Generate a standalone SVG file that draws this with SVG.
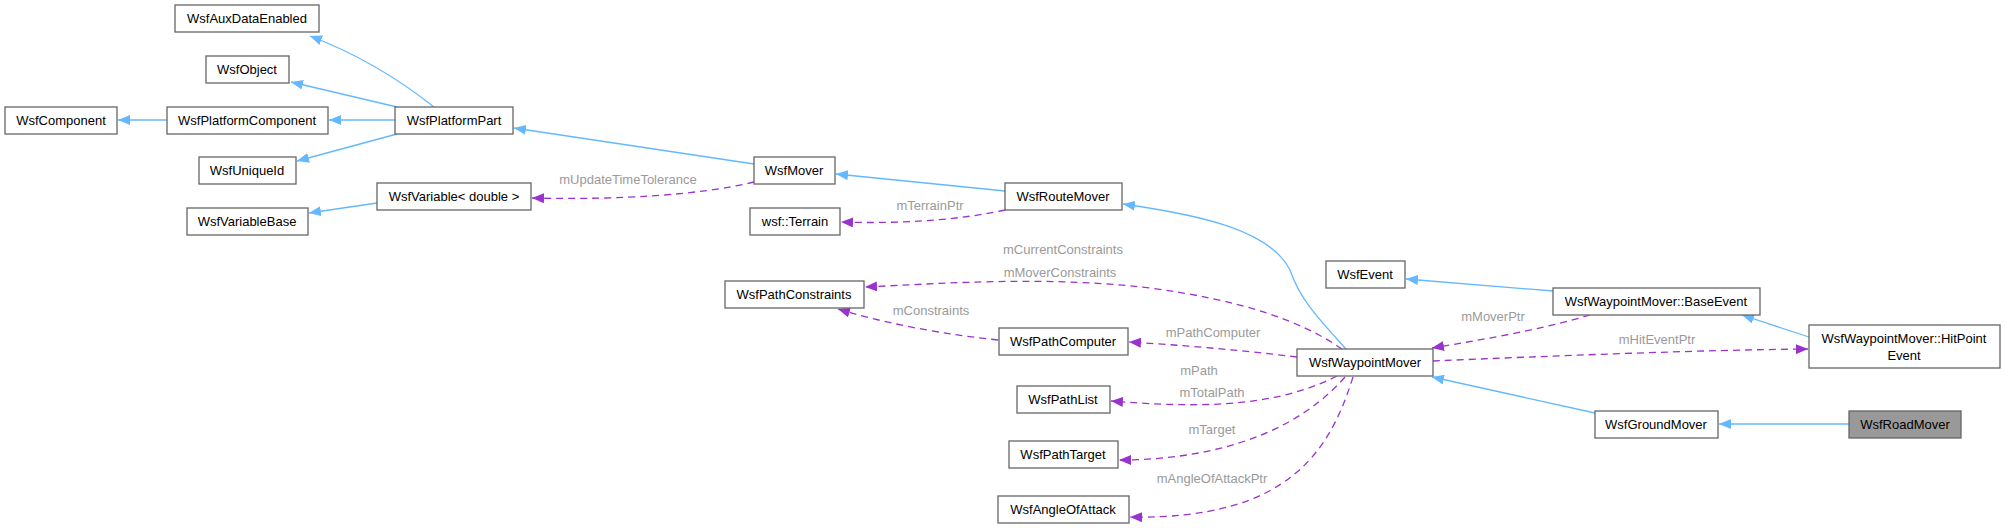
<svg xmlns="http://www.w3.org/2000/svg" width="2005" height="528" viewBox="0 0 2005 528">
<style>
.n rect{fill:#fff;stroke:#666;stroke-width:1.3}
.n text{font-family:"Liberation Sans",Arial,sans-serif;font-size:13px;fill:#000;text-anchor:middle}
.cur rect{fill:#999}
.b{fill:none;stroke:#63b8ff;stroke-width:1.3}
.p{fill:none;stroke:#9a32cd;stroke-width:1.3;stroke-dasharray:7,5}
.l{font-family:"Liberation Sans",Arial,sans-serif;font-size:13px;fill:#9a9a9a;text-anchor:middle}
</style>
<defs>
<marker id="ab" viewBox="0 0 12 10" refX="12" refY="5" markerWidth="12" markerHeight="10" markerUnits="userSpaceOnUse" orient="auto"><path d="M0,0L12,5L0,10z" fill="#63b8ff"/></marker>
<marker id="ap" viewBox="0 0 12 10" refX="12" refY="5" markerWidth="12" markerHeight="10" markerUnits="userSpaceOnUse" orient="auto"><path d="M0,0L12,5L0,10z" fill="#9a32cd"/></marker>
</defs>
<g id="edges">
<path class="b" marker-end="url(#ab)" d="M434,107 C400,80 360,55 310,36"/>
<path class="b" marker-end="url(#ab)" d="M397,107 L291,82"/>
<path class="b" marker-end="url(#ab)" d="M395,120 L329,120"/>
<path class="b" marker-end="url(#ab)" d="M167,120 L118,120"/>
<path class="b" marker-end="url(#ab)" d="M397,134 L297,161"/>
<path class="b" marker-end="url(#ab)" d="M377,203 L309,213"/>
<path class="b" marker-end="url(#ab)" d="M754,164 L514,128"/>
<path class="b" marker-end="url(#ab)" d="M1005,191 L836,174"/>
<path class="b" marker-end="url(#ab)" d="M1346,349 C1320,320 1300,300 1290,270 C1270,230 1200,215 1123,204"/>
<path class="b" marker-end="url(#ab)" d="M1553,291 L1406,279"/>
<path class="b" marker-end="url(#ab)" d="M1809,337 L1742,315"/>
<path class="b" marker-end="url(#ab)" d="M1595,413 L1432,377"/>
<path class="b" marker-end="url(#ab)" d="M1849,424 L1719,424"/>
<path class="p" marker-end="url(#ap)" d="M754,182 C700,195 620,200 532,198"/>
<text class="l" x="628" y="184">mUpdateTimeTolerance</text>
<path class="p" marker-end="url(#ap)" d="M1005,210 C960,220 900,224 841,222"/>
<text class="l" x="930" y="210">mTerrainPtr</text>
<path class="p" marker-end="url(#ap)" d="M1342,349 C1300,320 1240,300 1150,288 C1050,276 950,283 865,287"/>
<text class="l" x="1063" y="254">mCurrentConstraints</text>
<text class="l" x="1060" y="277">mMoverConstraints</text>
<path class="p" marker-end="url(#ap)" d="M998,340 C950,335 890,325 838,309"/>
<text class="l" x="931" y="315">mConstraints</text>
<path class="p" marker-end="url(#ap)" d="M1297,357 C1240,350 1180,345 1129,342"/>
<text class="l" x="1213" y="337">mPathComputer</text>
<path class="p" marker-end="url(#ap)" d="M1337,376 C1270,410 1190,407 1111,401"/>
<text class="l" x="1199" y="375">mPath</text>
<text class="l" x="1212" y="397">mTotalPath</text>
<path class="p" marker-end="url(#ap)" d="M1345,377 C1290,440 1200,460 1119,460"/>
<text class="l" x="1212" y="434">mTarget</text>
<path class="p" marker-end="url(#ap)" d="M1353,377 C1330,450 1290,520 1130,517"/>
<text class="l" x="1212" y="483">mAngleOfAttackPtr</text>
<path class="p" marker-end="url(#ap)" d="M1590,315 C1540,330 1480,340 1432,348"/>
<text class="l" x="1493" y="321">mMoverPtr</text>
<path class="p" marker-end="url(#ap)" d="M1433,361 C1550,356 1700,350 1808,349"/>
<text class="l" x="1657" y="344">mHitEventPtr</text>
</g>
<g id="WsfAuxDataEnabled" class="n"><rect x="175" y="5" width="144" height="27"/><text x="247" y="23">WsfAuxDataEnabled</text></g>
<g id="WsfObject" class="n"><rect x="206" y="56" width="83" height="27"/><text x="247" y="74">WsfObject</text></g>
<g id="WsfComponent" class="n"><rect x="5" y="107" width="112" height="27"/><text x="61" y="125">WsfComponent</text></g>
<g id="WsfPlatformComponent" class="n"><rect x="167" y="107" width="161" height="27"/><text x="247" y="125">WsfPlatformComponent</text></g>
<g id="WsfPlatformPart" class="n"><rect x="395" y="107" width="118" height="27"/><text x="454" y="125">WsfPlatformPart</text></g>
<g id="WsfUniqueId" class="n"><rect x="199" y="157" width="97" height="27"/><text x="247" y="175">WsfUniqueId</text></g>
<g id="WsfVariable" class="n"><rect x="377" y="183" width="154" height="27"/><text x="454" y="201">WsfVariable&lt; double &gt;</text></g>
<g id="WsfVariableBase" class="n"><rect x="187" y="208" width="121" height="27"/><text x="247" y="226">WsfVariableBase</text></g>
<g id="WsfMover" class="n"><rect x="754" y="157" width="81" height="27"/><text x="794" y="175">WsfMover</text></g>
<g id="WsfRouteMover" class="n"><rect x="1005" y="183" width="117" height="27"/><text x="1063" y="201">WsfRouteMover</text></g>
<g id="wsfTerrain" class="n"><rect x="750" y="208" width="90" height="27"/><text x="795" y="226">wsf::Terrain</text></g>
<g id="WsfPathConstraints" class="n"><rect x="725" y="281" width="139" height="27"/><text x="794" y="299">WsfPathConstraints</text></g>
<g id="WsfPathComputer" class="n"><rect x="999" y="328" width="129" height="27"/><text x="1063" y="346">WsfPathComputer</text></g>
<g id="WsfWaypointMover" class="n"><rect x="1297" y="349" width="136" height="27"/><text x="1365" y="367">WsfWaypointMover</text></g>
<g id="WsfPathList" class="n"><rect x="1017" y="386" width="93" height="27"/><text x="1063" y="404">WsfPathList</text></g>
<g id="WsfPathTarget" class="n"><rect x="1009" y="441" width="109" height="27"/><text x="1063" y="459">WsfPathTarget</text></g>
<g id="WsfAngleOfAttack" class="n"><rect x="998" y="496" width="131" height="27"/><text x="1063" y="514">WsfAngleOfAttack</text></g>
<g id="WsfEvent" class="n"><rect x="1326" y="261" width="79" height="27"/><text x="1365" y="279">WsfEvent</text></g>
<g id="BaseEvent" class="n"><rect x="1553" y="288" width="207" height="27"/><text x="1656" y="306">WsfWaypointMover::BaseEvent</text></g>
<g id="HitPointEvent" class="n"><rect x="1809" y="325" width="191" height="43"/><text x="1904" y="343">WsfWaypointMover::HitPoint</text><text x="1904" y="360">Event</text></g>
<g id="WsfGroundMover" class="n"><rect x="1595" y="411" width="123" height="27"/><text x="1656" y="429">WsfGroundMover</text></g>
<g id="WsfRoadMover" class="n cur"><rect x="1849" y="411" width="112" height="27"/><text x="1905" y="429">WsfRoadMover</text></g>
</svg>
